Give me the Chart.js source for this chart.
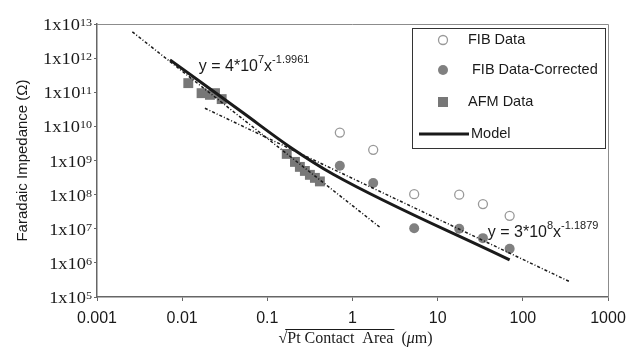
<!DOCTYPE html>
<html>
<head>
<meta charset="utf-8">
<script src="https://cdn.jsdelivr.net/npm/chart.js@4/dist/chart.umd.min.js"></script>
<style>
  html, body { margin: 0; padding: 0; background: #fff; }
  #wrap { width: 639px; height: 349px; }
</style>
</head>
<body>
<div id="wrap"><canvas id="myChart"></canvas></div>
<script>
// values (x = sqrt of Pt contact area in um, y = ohm)
const fibX = [0.71, 1.75, 5.3, 17.9, 34, 70];
const fibY = [6.6e9, 2.05e9, 1.03e8, 1.0e8, 5.3e7, 2.4e7];
const fibCorrY = [7e8, 2.2e8, 1.04e7, 1.0e7, 5.3e6, 2.6e6];
const afmX = [0.0118, 0.0169, 0.0212, 0.0243, 0.0291, 0.169, 0.211, 0.241, 0.276, 0.316, 0.362, 0.414];
const afmY = [1.85e11, 9.4e10, 8.4e10, 9.4e10, 6.3e10, 1.56e9, 9.1e8, 6.5e8, 4.95e8, 3.8e8, 3.1e8, 2.44e8];
const modelX = [0.0072, 0.0518, 0.184, 0.6, 70];
const modelY = [8.9e11, 2.5e10, 2.5e9, 3.9e8, 1.22e6];
// power law fits, end points as drawn
const fitAfmX = [0.0026, 2.1];
const fitAfmY = [5.9e12, 1.1e7];
const fitFibX = [0.0185, 356];
const fitFibY = [3.4e10, 2.8e5];

const xTicks = [0.001, 0.01, 0.1, 1, 10, 100, 1000];
const xTickLabels = ["0.001", "0.01", "0.1", "1", "10", "100", "1000"];
const yTicks = [1e5, 1e6, 1e7, 1e8, 1e9, 1e10, 1e11, 1e12, 1e13];
const yTickBase = "1x10";
const yTickExp = ["5", "6", "7", "8", "9", "10", "11", "12", "13"];

const legendNames = ["FIB Data", "FIB Data-Corrected", "AFM Data", "Model"];

const SANS = "'Liberation Sans', Arial, sans-serif";
const SERIF = "'Liberation Serif', 'Times New Roman', serif";

function points(xs, ys) {
    return xs.map((x, i) => ({x: x, y: ys[i]}));
}

// draws text with superscript pieces, left/baseline at px,py
function drawRich(ctx, px, py, parts) {
    let cx = px;
    parts.forEach(([t, sup]) => {
        ctx.font = sup ? "11px " + SANS : "16px " + SANS;
        ctx.fillText(t, cx, sup ? py - 8 : py);
        cx += ctx.measureText(t).width;
    });
}

const decor = {
    id: "decor",
    afterDraw(chart) {
        const ctx = chart.ctx;
        const a = chart.chartArea;
        const xs = chart.scales.x, ys = chart.scales.y;
        ctx.save();

        // top and right frame of the plot
        ctx.strokeStyle = "#8c8c8c";
        ctx.lineWidth = 1;
        ctx.beginPath();
        ctx.moveTo(a.left, a.top + 0.5);
        ctx.lineTo(a.right + 0.5, a.top + 0.5);
        ctx.lineTo(a.right + 0.5, a.bottom);
        ctx.stroke();

        // y tick labels 1x10^n (serif, slightly wide)
        ctx.fillStyle = "#1a1a1a";
        ctx.textBaseline = "alphabetic";
        ctx.textAlign = "left";
        yTicks.forEach((v, i) => {
            const py = ys.getPixelForValue(v);
            const right = a.left - 5;
            ctx.font = "11px " + SERIF;
            const ew = ctx.measureText(yTickExp[i]).width * 1.1;
            ctx.font = "16px " + SERIF;
            const bw = ctx.measureText(yTickBase).width * 1.15;
            ctx.save();
            ctx.translate(right - ew - bw, py + 6);
            ctx.scale(1.15, 1);
            ctx.fillText(yTickBase, 0, 0);
            ctx.restore();
            ctx.save();
            ctx.translate(right - ew, py + 2);
            ctx.scale(1.1, 1);
            ctx.font = "11px " + SERIF;
            ctx.fillText(yTickExp[i], 0, 0);
            ctx.restore();
        });

        // fit equations
        drawRich(ctx, xs.getPixelForValue(0.0157), ys.getPixelForValue(4.3e11),
            [["y = 4*10", false], ["7", true], ["x", false], ["-1.9961", true]]);
        drawRich(ctx, xs.getPixelForValue(38.8), ys.getPixelForValue(5.75e6),
            [["y = 3*10", false], ["8", true], ["x", false], ["-1.1879", true]]);

        // legend box
        const lx = 412, ly = 28, lw = 193, lh = 120;
        ctx.fillStyle = "#fff";
        ctx.fillRect(lx, ly, lw, lh);
        ctx.strokeStyle = "#333";
        ctx.strokeRect(lx + 0.5, ly + 0.5, lw, lh);
        const rowY = [40, 70, 102, 134];
        const rowX = [468, 472, 468, 471];
        const mx = 443;
        ctx.beginPath();
        ctx.arc(mx, rowY[0], 4.5, 0, Math.PI * 2);
        ctx.strokeStyle = "#999";
        ctx.lineWidth = 1.3;
        ctx.stroke();
        ctx.beginPath();
        ctx.arc(mx, rowY[1], 5, 0, Math.PI * 2);
        ctx.fillStyle = "#808080";
        ctx.fill();
        ctx.fillStyle = "#777";
        ctx.fillRect(mx - 5, rowY[2] - 5, 10, 10);
        ctx.beginPath();
        ctx.moveTo(419, rowY[3]);
        ctx.lineTo(469, rowY[3]);
        ctx.strokeStyle = "#1a1a1a";
        ctx.lineWidth = 3;
        ctx.stroke();

        ctx.fillStyle = "#1a1a1a";
        ctx.font = "14.5px " + SANS;
        ctx.textBaseline = "middle";
        legendNames.forEach((n, i) => {
            ctx.fillText(n, rowX[i], rowY[i]);
        });

        // x axis title with radical + overline
        ctx.textBaseline = "alphabetic";
        const base = 343;
        const pieces = [
            ["√", "16px " + SERIF],
            ["Pt Contact  Area", "16px " + SERIF],
            ["  (", "16px " + SERIF],
            ["μ", "italic 16px " + SERIF],
            ["m)", "16px " + SERIF]
        ];
        let total = 0;
        const widths = pieces.map(([t, f]) => {
            ctx.font = f;
            const w = ctx.measureText(t).width;
            total += w;
            return w;
        });
        let cx = (a.left + a.right) / 2 + 3 - total / 2;
        pieces.forEach(([t, f], i) => {
            ctx.font = f;
            ctx.fillText(t, cx, base);
            if (i === 1) {
                ctx.beginPath();
                ctx.moveTo(cx - 2, base - 13.5);
                ctx.lineTo(cx + widths[i] + 1, base - 13.5);
                ctx.strokeStyle = "#1a1a1a";
                ctx.lineWidth = 1;
                ctx.stroke();
            }
            cx += widths[i];
        });
        ctx.restore();
    }
};

new Chart("myChart", {
    type: "scatter",
    data: {
        datasets: [{
            label: legendNames[0],
            data: points(fibX, fibY),
            pointStyle: "circle",
            pointRadius: 4.5,
            pointBorderWidth: 1.3,
            borderColor: "#999",
            backgroundColor: "#fff",
            order: 1
        }, {
            label: legendNames[1],
            data: points(fibX, fibCorrY),
            pointStyle: "circle",
            pointRadius: 5,
            pointBorderWidth: 0,
            borderColor: "#808080",
            backgroundColor: "#808080",
            order: 1
        }, {
            label: legendNames[2],
            data: points(afmX, afmY),
            pointStyle: "rect",
            pointRadius: 7,
            pointBorderWidth: 0,
            borderColor: "#777",
            backgroundColor: "#777",
            order: 2
        }, {
            label: legendNames[3],
            data: points(modelX, modelY),
            showLine: true,
            pointRadius: 0,
            borderColor: "#1a1a1a",
            borderWidth: 3,
            cubicInterpolationMode: "monotone",
            order: 0
        }, {
            label: "fit AFM",
            data: points(fitAfmX, fitAfmY),
            showLine: true,
            pointRadius: 0,
            borderColor: "#1a1a1a",
            borderWidth: 1.5,
            borderDash: [3, 2, 1, 2],
            order: 0
        }, {
            label: "fit FIB",
            data: points(fitFibX, fitFibY),
            showLine: true,
            pointRadius: 0,
            borderColor: "#1a1a1a",
            borderWidth: 1.5,
            borderDash: [3, 2, 1, 2],
            order: 0
        }]
    },
    options: {
        responsive: true,
        maintainAspectRatio: false,
        animation: false,
        layout: {padding: {top: 24, right: 31, left: 0, bottom: 0}},
        plugins: {
            legend: {display: false},
            tooltip: {enabled: false}
        },
        scales: {
            x: {
                type: "logarithmic",
                min: 0.001,
                max: 1000,
                afterBuildTicks: (s) => { s.ticks = xTicks.map(v => ({value: v})); },
                afterFit: (s) => { s.height = 52; },
                ticks: {
                    autoSkip: false,
                    maxRotation: 0,
                    padding: 8,
                    color: "#1a1a1a",
                    font: {family: SANS, size: 16},
                    callback: (v, i) => xTickLabels[i]
                },
                grid: {drawOnChartArea: false, drawTicks: true, tickLength: 4, color: "#666"},
                border: {display: true, color: "#666", width: 1.5}
            },
            y: {
                type: "logarithmic",
                min: 1e5,
                max: 1e13,
                afterBuildTicks: (s) => { s.ticks = yTicks.map(v => ({value: v})); },
                afterFit: (s) => { s.width = 97; },
                ticks: {display: false},
                grid: {drawOnChartArea: false, drawTicks: true, tickLength: 3, color: "#666"},
                border: {display: true, color: "#666", width: 1.5},
                title: {
                    display: true,
                    text: "Faradaic Impedance (Ω)",
                    color: "#1a1a1a",
                    font: {family: SANS, size: 15},
                    padding: {top: 14, bottom: 0}
                }
            }
        }
    },
    plugins: [decor]
});
</script>
</body>
</html>
